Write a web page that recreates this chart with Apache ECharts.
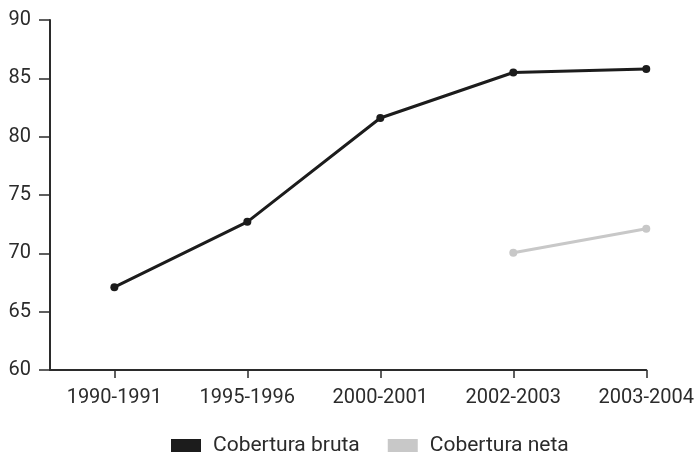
<!DOCTYPE html>
<html>
<head>
<meta charset="utf-8">
<script src="https://cdn.jsdelivr.net/npm/echarts@6/dist/echarts.min.js"></script>
<style>
  html, body { margin: 0; padding: 0; background: #fff; }
  #chart { width: 697px; height: 462px; }
</style>
</head>
<body>
<div id="chart"></div>
<script>
const categories = ["1990-1991", "1995-1996", "2000-2001", "2002-2003", "2003-2004"];
const brutaValues = [67.1, 72.7, 81.6, 85.5, 85.8];
const netaValues = [null, null, null, 70.05, 72.1];
const yTicks = [60, 65, 70, 75, 80, 85, 90];

const chart = echarts.init(document.getElementById("chart"));
const font = "Roboto, 'DejaVu Sans', sans-serif";
const ink = "#2b2b2b";
const toPoints = (vals) => vals.map((v, i) => [i, v]);
const idx = categories.map((_, i) => i);

chart.setOption({
  animation: false,
  textStyle: { fontFamily: font },
  grid: { left: 50, right: 45, top: 20, bottom: 92 },
  legend: {
    bottom: 1,
    left: 166,
    icon: "rect",
    itemWidth: 30,
    itemHeight: 13,
    itemGap: 28,
    textStyle: { color: ink, fontSize: 21, fontFamily: font, padding: [0, 0, 0, 7] },
    data: ["Cobertura bruta", "Cobertura neta"],
  },
  xAxis: {
    type: "value",
    min: -0.484,
    max: categories.length - 1,
    splitLine: { show: false },
    axisLine: { onZero: false, lineStyle: { color: ink, width: 2 } },
    axisTick: { show: true, length: 8, customValues: idx, lineStyle: { color: ink, width: 1.5 } },
    axisLabel: {
      customValues: idx,
      margin: 18,
      color: ink,
      fontSize: 20,
      formatter: (v) => categories[v] ?? "",
    },
  },
  yAxis: {
    type: "value",
    min: yTicks[0],
    max: yTicks[yTicks.length - 1],
    interval: 5,
    splitLine: { show: false },
    axisLine: { show: true, onZero: false, lineStyle: { color: ink, width: 2 } },
    axisTick: { show: true, length: 11, lineStyle: { color: ink, width: 1.5 } },
    axisLabel: { margin: 19, color: ink, fontSize: 20 },
  },
  series: [
    {
      name: "Cobertura bruta",
      type: "line",
      data: toPoints(brutaValues),
      symbol: "circle",
      symbolSize: 8,
      lineStyle: { color: "#1c1c1c", width: 3 },
      itemStyle: { color: "#1c1c1c" },
    },
    {
      name: "Cobertura neta",
      type: "line",
      data: toPoints(netaValues),
      connectNulls: false,
      symbol: "circle",
      symbolSize: 8,
      lineStyle: { color: "#c8c8c8", width: 3 },
      itemStyle: { color: "#c8c8c8" },
    },
  ],
});
</script>
</body>
</html>
